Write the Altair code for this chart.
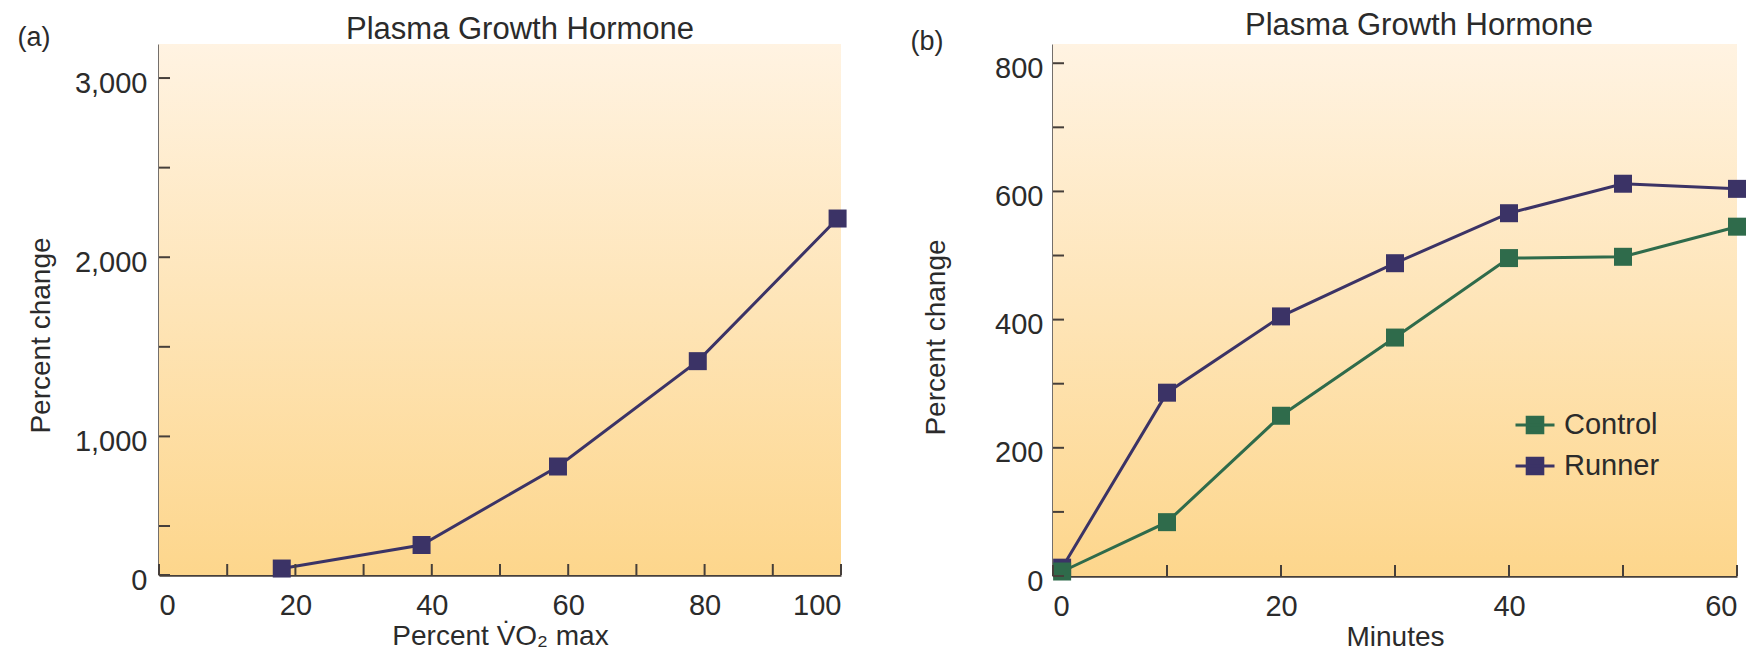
import altair as alt
import pandas as pd

# ---------------- data ----------------
# Panel (a): plasma growth hormone vs exercise intensity
vo2_pct = [18, 38.5, 58.5, 79, 99.5]
gh_pct_change = [66, 306, 832, 1420, 2216]

# Panel (b): plasma growth hormone over time
minutes = [0.8, 10, 20, 30, 40, 50, 60]
runner_change = [13, 286, 405, 488, 566, 612, 604]
control_change = [7, 84, 250, 372, 496, 498, 545]
groups = ["Control", "Runner"]

# axis ticks / labels
a_x_ticks = [0, 10, 20, 30, 40, 50, 60, 70, 80, 90, 100]
a_x_labels = [0, 20, 40, 60, 80, 100]
a_y_ticks = [0, 500, 1000, 1500, 2000, 2500, 3000]
a_y_labels = [0, 1000, 2000, 3000]
b_x_ticks = [0, 10, 20, 30, 40, 50, 60]
b_x_labels = [0, 20, 40, 60]
b_y_ticks = [0, 100, 200, 300, 400, 500, 600, 700, 800]
b_y_labels = [0, 200, 400, 600, 800]

# ---------------- style ----------------
FONT = "Liberation Sans, Arial, Helvetica, sans-serif"
AXIS_COLOR = "#463f3a"
TEXT_COLOR = "#2b2b2b"
RUNNER = "#3b3366"
CONTROL = "#2f6b4b"
BG = alt.LinearGradient(
    gradient="linear",
    stops=[alt.GradientStop(color="#fff3e2", offset=0),
           alt.GradientStop(color="#fdd68c", offset=1)],
    x1=0, x2=0, y1=0, y2=1,
)
WA, HA = 682, 531
WB, HB = 684, 532
TICK_LEN = 11
LEGEND_PATH = "M-1,0H1M-0.4,-0.4H0.4V0.4H-0.4Z"

df_a = pd.DataFrame({"vo2": vo2_pct, "change": gh_pct_change})
df_b = pd.DataFrame({
    "minutes": minutes + minutes,
    "change": runner_change + control_change,
    "group": ["Runner"] * len(minutes) + ["Control"] * len(minutes),
})

one_row = alt.Data(values=[{}])

# ---------------- panel (a) ----------------
xa_scale = alt.Scale(domain=[0, 100], nice=False, zero=False)
ya_scale = alt.Scale(domain=[0, 500, 3190], range=[HA, HA - 49, 0], nice=False, zero=False)
xa_axis = alt.Axis(values=a_x_labels, title="Percent V\u0307O\u2082 max")
ya_axis = alt.Axis(values=a_y_labels, format=",d", title="Percent change",
                   labelPadding=12, titleX=-104, titleY=291)

bg_a = alt.Chart(one_row).mark_rect(color=BG).encode(
    x=alt.value(0), x2=alt.value(WA), y=alt.value(0), y2=alt.value(HA))

line_a = alt.Chart(df_a).mark_line(color=RUNNER, strokeWidth=3).encode(
    x=alt.X("vo2:Q", scale=xa_scale, axis=xa_axis),
    y=alt.Y("change:Q", scale=ya_scale, axis=ya_axis),
)
pts_a = alt.Chart(df_a).mark_point(shape="square", filled=True, size=324, opacity=1,
                                   color=RUNNER).encode(
    x=alt.X("vo2:Q", scale=xa_scale, axis=xa_axis),
    y=alt.Y("change:Q", scale=ya_scale, axis=ya_axis))

xt_a = alt.Chart(pd.DataFrame({"vo2": a_x_ticks})).mark_rule(color=AXIS_COLOR, strokeWidth=2).encode(
    x=alt.X("vo2:Q", scale=xa_scale, axis=xa_axis), y=alt.value(HA), y2=alt.value(HA - TICK_LEN))
yt_a = alt.Chart(pd.DataFrame({"change": a_y_ticks})).mark_rule(color=AXIS_COLOR, strokeWidth=2).encode(
    y=alt.Y("change:Q", scale=ya_scale, axis=ya_axis), x=alt.value(0), x2=alt.value(TICK_LEN))

title_a = alt.Chart(one_row).mark_text(text="Plasma Growth Hormone", font=FONT, fontSize=31,
                                       color=TEXT_COLOR, align="center", baseline="alphabetic").encode(
    x=alt.value(361), y=alt.value(-5))
lab_a = alt.Chart(one_row).mark_text(text="(a)", font=FONT, fontSize=27, color=TEXT_COLOR,
                                     align="center", baseline="middle").encode(
    x=alt.value(-125), y=alt.value(-6))

panel_a = alt.layer(bg_a, line_a, pts_a, xt_a, yt_a, title_a, lab_a).properties(width=WA, height=HA)

# ---------------- panel (b) ----------------
xb_scale = alt.Scale(domain=[0, 60], nice=False, zero=False)
yb_scale = alt.Scale(domain=[0, 830], nice=False, zero=False)
xb_axis = alt.Axis(values=b_x_labels, title="Minutes")
yb_axis = alt.Axis(values=b_y_labels, title="Percent change",
                   labelPadding=10, titleX=-103, titleY=293)
color_scale = alt.Scale(domain=groups, range=[CONTROL, RUNNER])
LEG = alt.Legend(title=None, orient="none", legendX=1355, legendY=360,
                 symbolType=LEGEND_PATH, symbolSize=1521, symbolStrokeWidth=3,
                 symbolOpacity=1, labelFont=FONT, labelFontSize=29, labelColor=TEXT_COLOR,
                 labelOffset=8, rowPadding=5, padding=0)

bg_b = alt.Chart(one_row).mark_rect(color=BG).encode(
    x=alt.value(0), x2=alt.value(WB), y=alt.value(0), y2=alt.value(HB))

line_b = alt.Chart(df_b).mark_line(strokeWidth=3).encode(
    x=alt.X("minutes:Q", scale=xb_scale, axis=xb_axis),
    y=alt.Y("change:Q", scale=yb_scale, axis=yb_axis),
    stroke=alt.Stroke("group:N", scale=color_scale, legend=LEG),
)
pts_b = alt.Chart(df_b).mark_point(shape="square", filled=True, size=324, opacity=1).encode(
    x=alt.X("minutes:Q", scale=xb_scale, axis=xb_axis),
    y=alt.Y("change:Q", scale=yb_scale, axis=yb_axis),
    fill=alt.Fill("group:N", scale=color_scale, legend=LEG),
)

xt_b = alt.Chart(pd.DataFrame({"minutes": b_x_ticks})).mark_rule(color=AXIS_COLOR, strokeWidth=2).encode(
    x=alt.X("minutes:Q", scale=xb_scale, axis=xb_axis), y=alt.value(HB), y2=alt.value(HB - TICK_LEN))
yt_b = alt.Chart(pd.DataFrame({"change": b_y_ticks})).mark_rule(color=AXIS_COLOR, strokeWidth=2).encode(
    y=alt.Y("change:Q", scale=yb_scale, axis=yb_axis), x=alt.value(0), x2=alt.value(TICK_LEN))

title_b = alt.Chart(one_row).mark_text(text="Plasma Growth Hormone", font=FONT, fontSize=31,
                                       color=TEXT_COLOR, align="center", baseline="alphabetic").encode(
    x=alt.value(366), y=alt.value(-9))
lab_b = alt.Chart(one_row).mark_text(text="(b)", font=FONT, fontSize=27, color=TEXT_COLOR,
                                     align="center", baseline="middle").encode(
    x=alt.value(-126), y=alt.value(-2))

panel_b = alt.layer(bg_b, line_b, pts_b, xt_b, yt_b, title_b, lab_b).properties(width=WB, height=HB)

# ---------------- assemble ----------------
chart = (
    alt.hconcat(panel_a, panel_b, spacing=63)
    .properties(padding={"left": 17, "top": 10, "right": 0, "bottom": 0})
    .configure_view(strokeWidth=0)
    .configure_axis(
        domainColor=AXIS_COLOR, domainWidth=2.5, grid=False, ticks=False, tickSize=0,
        labelFont=FONT, labelFontSize=29, labelColor=TEXT_COLOR,
        titleFont=FONT, titleFontSize=28, titleFontWeight="normal", titleColor=TEXT_COLOR,
        labelOverlap=False, zindex=1,
    )
    .configure_axisX(labelFlush=True, labelPadding=16, titlePadding=2)
    .configure_axisY(labelFlush=False, labelOffset=5)
)

chart.save("out.html", embed_options={"renderer": "svg", "actions": False})
